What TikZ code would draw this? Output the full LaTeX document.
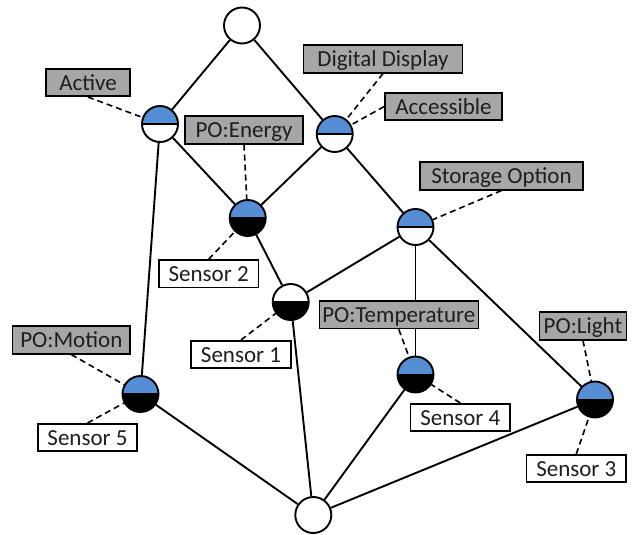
\documentclass[tikz,border=0pt]{standalone}
\usepackage{fontspec}
\setmainfont{Carlito}
\usetikzlibrary{backgrounds}
\definecolor{nodeblue}{RGB}{85,142,213}
\definecolor{boxgray}{RGB}{166,166,166}
\definecolor{txtgray}{RGB}{30,30,30}
\tikzset{
  halfnode/.style 2 args={circle, draw=black, line width=1.9pt, minimum size=36pt, inner sep=0pt,
    path picture={
      \fill[#1] (path picture bounding box.west) rectangle (path picture bounding box.north east);
      \fill[#2] (path picture bounding box.west) rectangle (path picture bounding box.south east);
      \draw[line width=1.6pt] (path picture bounding box.west) -- (path picture bounding box.east);}},
  plainnode/.style={circle, draw=black, fill=white, line width=1.9pt, minimum size=36pt, inner sep=0pt},
  lblbase/.style={draw=black, line width=1.6pt, inner xsep=0pt, inner ysep=0pt, minimum height=27.5pt,
    text height=15pt, text depth=0pt, text=txtgray, font=\fontsize{23}{27}\selectfont},
  lblg/.style={lblbase, fill=boxgray, minimum width=#1},
  lblw/.style={lblbase, fill=white, minimum width=#1},
  conn/.style={draw=black, line width=1.9pt},
  dconn/.style={draw=black, line width=1.6pt, dash pattern=on 6pt off 4pt},
}
\begin{document}
\begin{tikzpicture}[x=1pt,y=-1pt]
\useasboundingbox (0,0) rectangle (634,535);
% state nodes
\node[plainnode] (top) at (242,25.5) {};
\node[plainnode] (bot) at (313.3,515) {};
\node[halfnode={nodeblue}{white}] (act) at (160,124) {};
\node[halfnode={nodeblue}{white}] (acc) at (334.7,134) {};
\node[halfnode={nodeblue}{black}] (ene) at (247.7,218) {};
\node[halfnode={nodeblue}{white}] (sto) at (415.5,227) {};
\node[halfnode={white}{black}] (sone) at (290.7,302) {};
\node[halfnode={nodeblue}{black}] (tem) at (415.5,374.5) {};
\node[halfnode={nodeblue}{black}] (lig) at (595,399.5) {};
\node[halfnode={nodeblue}{black}] (mot) at (140.5,394) {};
% labels
\node[lblg=84pt] (actL) at (88,82.5) {Active};
\node[lblg=118pt] (eneL) at (244,130) {PO:Energy};
\node[lblg=159pt] (ddL) at (383,59) {Digital Display};
\node[lblg=117pt] (accL) at (443.5,106.5) {Accessible};
\node[lblg=163pt] (stoL) at (501.5,176) {Storage Option};
\node[lblw=99.5pt] (stwoL) at (208.7,273.8) {Sensor 2};
\node[lblw=99.5pt] (soneL) at (241,354.5) {Sensor 1};
\node[lblg=159pt] (temL) at (398.8,314.8) {PO:Temperature};
\node[lblg=87.3pt] (ligL) at (583,326) {PO:Light};
\node[lblg=117.3pt] (motL) at (71.3,340) {PO:Motion};
\node[lblw=99.5pt] (sfiveL) at (87.5,437.5) {Sensor 5};
\node[lblw=99.5pt] (sfourL) at (460.3,417.5) {Sensor 4};
\node[lblw=99.5pt] (sthreeL) at (576.3,468.5) {Sensor 3};
% solid edges
\begin{scope}[on background layer]
\draw[conn] (top) -- (act);
\draw[conn] (top) -- (acc);
\draw[conn] (act) -- (ene);
\draw[conn] (acc) -- (ene);
\draw[conn] (acc) -- (sto);
\draw[conn] (act) -- (mot);
\draw[conn] (ene) -- (sone);
\draw[conn] (sto) -- (sone);
\draw[conn] (sto) -- (tem);
\draw[conn] (sto) -- (lig);
\draw[conn] (sone) -- (bot);
\draw[conn] (tem) -- (bot);
\draw[conn] (lig) -- (bot);
\draw[conn] (mot) -- (bot);
\end{scope}
% dashed
\draw[dconn] (actL.south) -- (act);
\draw[dconn] (eneL.south) -- (ene);
\draw[dconn] (stwoL.north) -- (ene);
\draw[dconn] (ddL.south) -- (acc);
\draw[dconn] (accL.west) -- (acc);
\draw[dconn] (stoL.south) -- (sto);
\draw[dconn] (soneL.north) -- (sone);
\draw[dconn] (temL.south) -- (tem);
\draw[dconn] (sfourL.north) -- (tem);
\draw[dconn] (ligL.south) -- (lig);
\draw[dconn] (sthreeL.north) -- (lig);
\draw[dconn] (motL.south) -- (mot);
\draw[dconn] (sfiveL.north) -- (mot);
\end{tikzpicture}
\end{document}
